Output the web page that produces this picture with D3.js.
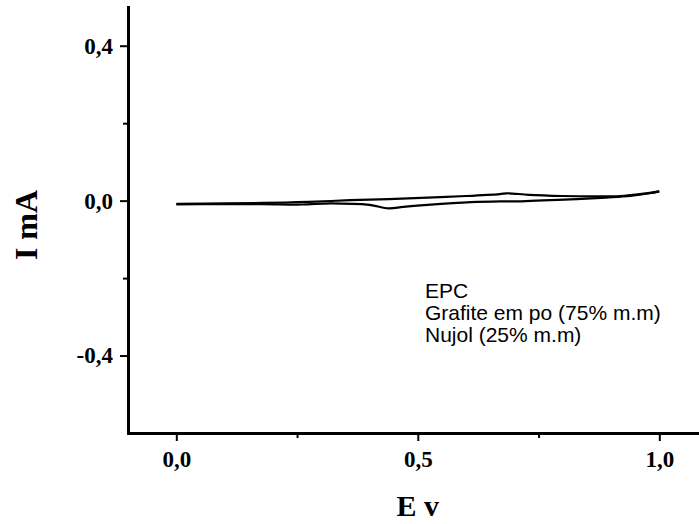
<!DOCTYPE html>
<html>
<head>
<meta charset="utf-8">
<script src="https://cdn.jsdelivr.net/npm/d3@7"></script>
<style>
  body { margin: 0; background: #fff; }
  svg { display: block; }
</style>
</head>
<body>
<svg></svg>
<script>
// Cyclic voltammogram values (E in V, I in mA)
const anodicE = [0.00, 0.10, 0.18, 0.25, 0.32, 0.38, 0.44, 0.52, 0.60, 0.67, 0.685, 0.73, 0.80, 0.86, 0.92, 0.96, 1.00];
const anodicI = [-0.008, -0.007, -0.006, -0.004, -0.001, 0.002, 0.004, 0.008, 0.012, 0.017, 0.019, 0.015, 0.012, 0.011, 0.012, 0.017, 0.024];
const cathodicE = [1.00, 0.98, 0.94, 0.89, 0.79, 0.70, 0.67, 0.61, 0.52, 0.47, 0.44, 0.40, 0.32, 0.26, 0.18, 0.08, 0.00];
const cathodicI = [0.024, 0.019, 0.012, 0.008, 0.002, -0.002, -0.002, -0.004, -0.011, -0.016, -0.020, -0.011, -0.007, -0.010, -0.009, -0.009, -0.010];

const xMajor = [0.0, 0.5, 1.0];
const xMinor = [0.25, 0.75];
const yMajor = [-0.4, 0.0, 0.4];
const yMinor = [-0.2, 0.2];
const noteLines = ["EPC", "Grafite em po (75% m.m)", "Nujol (25% m.m)"];

const width = 699, height = 524;

const svg = d3.select("svg")
    .attr("width", width)
    .attr("height", height);

// scales
const x = d3.scaleLinear().domain([-0.1, 1.1]).range([128, 707.6]);
const y = d3.scaleLinear().domain([-0.6, 0.5]).range([433, 7]);

const fmt = d => d3.format(".1f")(d).replace(".", ",").replace("\u2212", "-");

// axes
const xAxis = svg.append("g")
    .attr("transform", `translate(0,${y(-0.6)})`)
    .call(d3.axisBottom(x).tickValues(xMajor).tickSize(8).tickSizeOuter(0).tickPadding(6).tickFormat(fmt));

svg.append("g")
    .attr("transform", `translate(0,${y(-0.6)})`)
    .call(d3.axisBottom(x).tickValues(xMinor).tickSize(5).tickSizeOuter(0).tickFormat(""))
    .select(".domain").remove();

const yAxis = svg.append("g")
    .attr("transform", `translate(${x(-0.1)},0)`)
    .call(d3.axisLeft(y).tickValues(yMajor).tickSize(8).tickSizeOuter(0).tickPadding(7).tickFormat(fmt));

svg.append("g")
    .attr("transform", `translate(${x(-0.1)},0)`)
    .call(d3.axisLeft(y).tickValues(yMinor).tickSize(5).tickSizeOuter(0).tickFormat(""))
    .select(".domain").remove();

svg.selectAll(".domain")
    .attr("stroke", "#000")
    .attr("stroke-width", 3)
    .attr("stroke-linecap", "square");

svg.selectAll(".tick line")
    .attr("stroke", "#000")
    .attr("stroke-width", 2);

svg.selectAll(".tick text")
    .attr("fill", "#000")
    .style("font-family", "'Liberation Serif', 'Times New Roman', serif")
    .style("font-weight", "bold")
    .style("font-size", "23px");

xAxis.selectAll(".tick text").attr("dy", "0.85em");

// curve
const line = d3.line()
    .x(d => x(d[0]))
    .y(d => y(d[1]))
    .curve(d3.curveCatmullRom);

const anodic = anodicE.map((e, i) => [e, anodicI[i]]);
const cathodic = cathodicE.map((e, i) => [e, cathodicI[i]]);

[anodic, cathodic].forEach(branch => {
    svg.append("path")
        .datum(branch)
        .attr("d", line)
        .attr("fill", "none")
        .attr("stroke", "#000")
        .attr("stroke-width", 2.2);
});

// axis titles
svg.append("text")
    .attr("x", x(0.5))
    .attr("y", 516)
    .attr("text-anchor", "middle")
    .style("font-family", "'Liberation Serif', 'Times New Roman', serif")
    .style("font-weight", "bold")
    .style("font-size", "30px")
    .text("E v");

svg.append("text")
    .attr("transform", "rotate(-90)")
    .attr("x", -225)
    .attr("y", 37)
    .attr("text-anchor", "middle")
    .style("font-family", "'Liberation Serif', 'Times New Roman', serif")
    .style("font-weight", "bold")
    .style("font-size", "32px")
    .text("I mA");

// annotation
svg.append("g")
    .selectAll("text")
    .data(noteLines)
    .enter()
    .append("text")
    .attr("x", 425)
    .attr("y", (d, i) => 298 + i * 22)
    .style("font-family", "'Liberation Sans', Arial, sans-serif")
    .style("font-size", "21px")
    .text(d => d);
</script>
</body>
</html>
